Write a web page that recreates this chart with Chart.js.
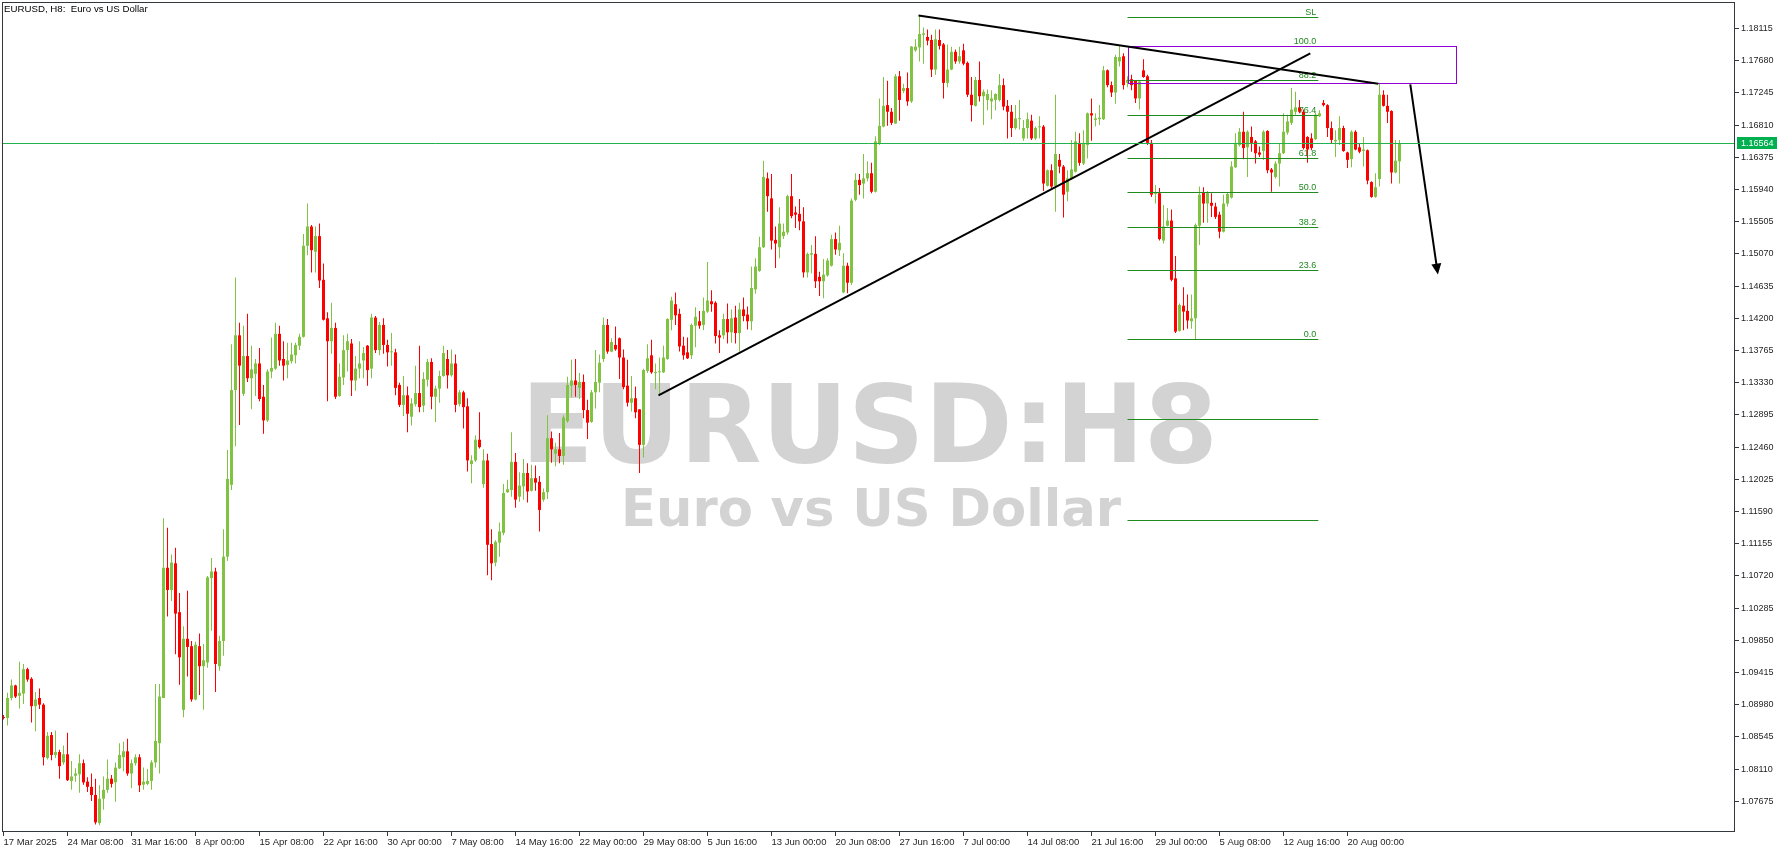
<!DOCTYPE html>
<html>
<head>
<meta charset="utf-8">
<title>EURUSD, H8</title>
<script src="https://cdn.jsdelivr.net/npm/chart.js@4.4.0/dist/chart.umd.min.js"></script>
<style>
  html, body { margin: 0; padding: 0; background: #ffffff; }
  #wrap { width: 1788px; height: 853px; }
</style>
</head>
<body>
<div id="wrap"><canvas id="chart" width="1788" height="853"></canvas></div>
<script>
/* =====================================================
   EURUSD H8 – candles, fibo, trend lines (Chart.js)
   ===================================================== */

const FONT_FAMILY = '"Liberation Sans", Arial, sans-serif';
const TEXT_COLOR = '#1e1e1e';
const AXIS_COLOR = '#33383d';
const BULL_COLOR = '#80c342';
const BEAR_COLOR = '#ff0000';
const FIBO_COLOR = '#1f8a1f';
const PRICE_COLOR = '#22b14c';
const RECT_COLOR = '#9400d3';
const MARK_COLOR = '#d3d3d3';

// ===================== DADOS =====================
const OPENS = [
  1.0881, 1.0880, 1.0907, 1.0924, 1.0910, 1.0913, 1.0946, 1.0933, 1.0896, 1.0907,
  1.0898, 1.0826, 1.0857, 1.0830, 1.0834, 1.0820, 1.0831, 1.0795, 1.0802, 1.0804,
  1.0819, 1.0794, 1.0787, 1.0776, 1.0738, 1.0771, 1.0783, 1.0798, 1.0793, 1.0812,
  1.0827, 1.0835, 1.0805, 1.0819, 1.0827, 1.0790, 1.0791, 1.0795, 1.0820, 1.0846,
  1.0907, 1.1083, 1.1053, 1.1089, 1.1023, 1.0891, 1.0987, 1.0977, 1.0905, 1.0977,
  1.0950, 1.0955, 1.1069, 1.1078, 1.0950, 1.0984, 1.1098, 1.1195, 1.1323, 1.1397,
  1.1318, 1.1369, 1.1339, 1.1345, 1.1359, 1.1314, 1.1282, 1.1348, 1.1352, 1.1399,
  1.1365, 1.1357, 1.1362, 1.1370, 1.1383, 1.1395, 1.1518, 1.1544, 1.1510, 1.1531,
  1.1472, 1.1420, 1.1389, 1.1407, 1.1315, 1.1340, 1.1377, 1.1386, 1.1336, 1.1352,
  1.1363, 1.1383, 1.1352, 1.1421, 1.1377, 1.1411, 1.1384, 1.1374, 1.1374, 1.1330,
  1.1303, 1.1316, 1.1287, 1.1304, 1.1319, 1.1302, 1.1337, 1.1361, 1.1314, 1.1325,
  1.1342, 1.1365, 1.1343, 1.1359, 1.1304, 1.1320, 1.1301, 1.1223, 1.1228, 1.1256,
  1.1196, 1.1228, 1.1115, 1.1090, 1.1117, 1.1130, 1.1185, 1.1188, 1.1226, 1.1179,
  1.1193, 1.1211, 1.1187, 1.1204, 1.1199, 1.1175, 1.1185, 1.1258, 1.1237, 1.1243,
  1.1234, 1.1281, 1.1329, 1.1336, 1.1326, 1.1334, 1.1296, 1.1280, 1.1320, 1.1333,
  1.1365, 1.1411, 1.1375, 1.1384, 1.1393, 1.1367, 1.1329, 1.1306, 1.1312, 1.1297,
  1.1249, 1.1349, 1.1370, 1.1346, 1.1347, 1.1347, 1.1365, 1.1418, 1.1439, 1.1426,
  1.1383, 1.1374, 1.1370, 1.1410, 1.1416, 1.1411, 1.1429, 1.1443, 1.1441, 1.1397,
  1.1397, 1.1419, 1.1401, 1.1421, 1.1400, 1.1432, 1.1425, 1.1416, 1.1459, 1.1484,
  1.1516, 1.1609, 1.1582, 1.1526, 1.1516, 1.1531, 1.1536, 1.1585, 1.1563, 1.1561,
  1.1551, 1.1482, 1.1506, 1.1507, 1.1476, 1.1470, 1.1478, 1.1491, 1.1527, 1.1512,
  1.1455, 1.1491, 1.1468, 1.1580, 1.1607, 1.1602, 1.1609, 1.1616, 1.1591, 1.1656,
  1.1679, 1.1708, 1.1699, 1.1683, 1.1747, 1.1727, 1.1731, 1.1713, 1.1782, 1.1786,
  1.1803, 1.1800, 1.1796, 1.1756, 1.1796, 1.1790, 1.1738, 1.1756, 1.1780, 1.1767,
  1.1782, 1.1765, 1.1722, 1.1707, 1.1742, 1.1720, 1.1715, 1.1713, 1.1715, 1.1715,
  1.1735, 1.1707, 1.1699, 1.1677, 1.1689, 1.1663, 1.1677, 1.1687, 1.1663, 1.1678,
  1.1679, 1.1599, 1.1620, 1.1599, 1.1634, 1.1625, 1.1591, 1.1608, 1.1618, 1.1657,
  1.1629, 1.1654, 1.1697, 1.1688, 1.1689, 1.1689, 1.1755, 1.1735, 1.1725, 1.1767,
  1.1774, 1.1738, 1.1743, 1.1741, 1.1717, 1.1755, 1.1747, 1.1657, 1.1588, 1.1589,
  1.1525, 1.1545, 1.1552, 1.1474, 1.1403, 1.1437, 1.1430, 1.1416, 1.1420, 1.1545,
  1.1590, 1.1575, 1.1576, 1.1571, 1.1560, 1.1537, 1.1575, 1.1583, 1.1624, 1.1654,
  1.1672, 1.1651, 1.1665, 1.1659, 1.1644, 1.1646, 1.1673, 1.1621, 1.1611, 1.1629,
  1.1643, 1.1671, 1.1684, 1.1699, 1.1705, 1.1699, 1.1665, 1.1663, 1.1662, 1.1693,
  1.1711, 1.1708, 1.1677, 1.1659, 1.1661, 1.1677, 1.1644, 1.1635, 1.1672, 1.1651,
  1.1646, 1.1647, 1.1604, 1.1584, 1.1608, 1.1722, 1.1707, 1.1700, 1.1617, 1.1632
];

const HIGHS = [
  1.0884, 1.0914, 1.0932, 1.0925, 1.0956, 1.0953, 1.0948, 1.0935, 1.0915, 1.0920,
  1.0900, 1.0861, 1.0861, 1.0863, 1.0837, 1.0843, 1.0860, 1.0822, 1.0812, 1.0831,
  1.0824, 1.0800, 1.0805, 1.0798, 1.0789, 1.0801, 1.0824, 1.0803, 1.0820, 1.0846,
  1.0848, 1.0852, 1.0824, 1.0831, 1.0831, 1.0813, 1.0811, 1.0823, 1.0926, 1.0926,
  1.1150, 1.1137, 1.1101, 1.1110, 1.1049, 1.1004, 1.1052, 1.0984, 1.0983, 1.0994,
  1.0980, 1.1072, 1.1096, 1.1083, 1.0991, 1.1135, 1.1242, 1.1385, 1.1475, 1.1414,
  1.1410, 1.1426, 1.1383, 1.1365, 1.1380, 1.1330, 1.1351, 1.1394, 1.1414, 1.1410,
  1.1389, 1.1387, 1.1387, 1.1387, 1.1399, 1.1534, 1.1575, 1.1546, 1.1544, 1.1548,
  1.1494, 1.1428, 1.1441, 1.1414, 1.1359, 1.1397, 1.1399, 1.1392, 1.1369, 1.1389,
  1.1381, 1.1384, 1.1426, 1.1423, 1.1415, 1.1420, 1.1391, 1.1400, 1.1379, 1.1333,
  1.1342, 1.1328, 1.1312, 1.1356, 1.1383, 1.1347, 1.1365, 1.1366, 1.1329, 1.1349,
  1.1383, 1.1377, 1.1378, 1.1371, 1.1323, 1.1322, 1.1312, 1.1235, 1.1262, 1.1293,
  1.1243, 1.1237, 1.1135, 1.1120, 1.1144, 1.1196, 1.1202, 1.1266, 1.1238, 1.1212,
  1.1230, 1.1224, 1.1222, 1.1221, 1.1207, 1.1190, 1.1289, 1.1267, 1.1252, 1.1265,
  1.1289, 1.1341, 1.1364, 1.1365, 1.1346, 1.1344, 1.1310, 1.1323, 1.1377, 1.1371,
  1.1421, 1.1419, 1.1393, 1.1409, 1.1394, 1.1378, 1.1364, 1.1342, 1.1328, 1.1297,
  1.1352, 1.1385, 1.1391, 1.1359, 1.1367, 1.1383, 1.1420, 1.1449, 1.1455, 1.1433,
  1.1395, 1.1394, 1.1413, 1.1435, 1.1430, 1.1448, 1.1496, 1.1458, 1.1443, 1.1404,
  1.1426, 1.1440, 1.1432, 1.1437, 1.1441, 1.1448, 1.1436, 1.1490, 1.1501, 1.1530,
  1.1633, 1.1617, 1.1615, 1.1544, 1.1570, 1.1548, 1.1587, 1.1615, 1.1571, 1.1581,
  1.1570, 1.1509, 1.1519, 1.1531, 1.1483, 1.1500, 1.1501, 1.1533, 1.1536, 1.1545,
  1.1508, 1.1495, 1.1582, 1.1616, 1.1615, 1.1642, 1.1632, 1.1630, 1.1666, 1.1717,
  1.1746, 1.1741, 1.1704, 1.1750, 1.1754, 1.1737, 1.1752, 1.1788, 1.1797, 1.1829,
  1.1813, 1.1810, 1.1803, 1.1810, 1.1810, 1.1792, 1.1790, 1.1787, 1.1783, 1.1787,
  1.1791, 1.1767, 1.1746, 1.1746, 1.1767, 1.1729, 1.1729, 1.1728, 1.1724, 1.1750,
  1.1744, 1.1715, 1.1708, 1.1708, 1.1715, 1.1688, 1.1698, 1.1695, 1.1679, 1.1693,
  1.1681, 1.1621, 1.1628, 1.1722, 1.1642, 1.1627, 1.1620, 1.1661, 1.1672, 1.1670,
  1.1674, 1.1698, 1.1717, 1.1697, 1.1708, 1.1761, 1.1756, 1.1740, 1.1776, 1.1788,
  1.1778, 1.1747, 1.1749, 1.1742, 1.1741, 1.1770, 1.1749, 1.1661, 1.1600, 1.1596,
  1.1573, 1.1569, 1.1567, 1.1504, 1.1440, 1.1462, 1.1452, 1.1452, 1.1548, 1.1598,
  1.1597, 1.1592, 1.1589, 1.1576, 1.1564, 1.1587, 1.1590, 1.1632, 1.1670, 1.1677,
  1.1699, 1.1674, 1.1679, 1.1661, 1.1652, 1.1674, 1.1674, 1.1623, 1.1632, 1.1656,
  1.1697, 1.1695, 1.1731, 1.1726, 1.1715, 1.1702, 1.1666, 1.1670, 1.1698, 1.1701,
  1.1715, 1.1709, 1.1686, 1.1674, 1.1693, 1.1680, 1.1645, 1.1674, 1.1674, 1.1656,
  1.1665, 1.1648, 1.1605, 1.1616, 1.1737, 1.1728, 1.1722, 1.1701, 1.1661, 1.1661
];

const LOWS = [
  1.0878, 1.0870, 1.0904, 1.0907, 1.0893, 1.0899, 1.0929, 1.0874, 1.0862, 1.0892,
  1.0816, 1.0824, 1.0823, 1.0826, 1.0798, 1.0817, 1.0795, 1.0783, 1.0794, 1.0779,
  1.0790, 1.0780, 1.0768, 1.0736, 1.0735, 1.0756, 1.0779, 1.0786, 1.0767, 1.0811,
  1.0808, 1.0802, 1.0785, 1.0816, 1.0780, 1.0783, 1.0789, 1.0783, 1.0813, 1.0805,
  1.0907, 1.1017, 1.1038, 1.0966, 1.0925, 1.0881, 1.0936, 1.0902, 1.0904, 1.0911,
  1.0891, 1.0948, 1.0998, 1.0915, 1.0944, 1.0964, 1.1092, 1.1188, 1.1247, 1.1276,
  1.1315, 1.1334, 1.1297, 1.1315, 1.1308, 1.1264, 1.1280, 1.1339, 1.1350, 1.1356,
  1.1336, 1.1339, 1.1359, 1.1359, 1.1377, 1.1394, 1.1505, 1.1482, 1.1482, 1.1461,
  1.1417, 1.1308, 1.1372, 1.1311, 1.1314, 1.1330, 1.1348, 1.1315, 1.1322, 1.1339,
  1.1339, 1.1329, 1.1339, 1.1373, 1.1370, 1.1372, 1.1355, 1.1356, 1.1316, 1.1300,
  1.1288, 1.1266, 1.1275, 1.1301, 1.1293, 1.1293, 1.1328, 1.1297, 1.1280, 1.1306,
  1.1341, 1.1325, 1.1341, 1.1293, 1.1301, 1.1271, 1.1213, 1.1197, 1.1226, 1.1244,
  1.1191, 1.1073, 1.1066, 1.1085, 1.1098, 1.1127, 1.1184, 1.1179, 1.1164, 1.1172,
  1.1175, 1.1171, 1.1186, 1.1187, 1.1132, 1.1172, 1.1176, 1.1225, 1.1220, 1.1224,
  1.1222, 1.1279, 1.1313, 1.1314, 1.1311, 1.1285, 1.1257, 1.1279, 1.1298, 1.1320,
  1.1361, 1.1372, 1.1374, 1.1376, 1.1338, 1.1324, 1.1301, 1.1294, 1.1285, 1.1211,
  1.1232, 1.1346, 1.1345, 1.1324, 1.1316, 1.1346, 1.1364, 1.1404, 1.1411, 1.1375,
  1.1364, 1.1365, 1.1365, 1.1381, 1.1406, 1.1404, 1.1427, 1.1429, 1.1386, 1.1373,
  1.1392, 1.1386, 1.1387, 1.1386, 1.1375, 1.1416, 1.1405, 1.1404, 1.1453, 1.1483,
  1.1515, 1.1564, 1.1513, 1.1488, 1.1501, 1.1527, 1.1533, 1.1555, 1.1542, 1.1539,
  1.1475, 1.1475, 1.1481, 1.1461, 1.1450, 1.1447, 1.1476, 1.1490, 1.1506, 1.1504,
  1.1454, 1.1454, 1.1465, 1.1578, 1.1587, 1.1582, 1.1605, 1.1589, 1.1590, 1.1654,
  1.1678, 1.1680, 1.1681, 1.1683, 1.1687, 1.1724, 1.1707, 1.1711, 1.1780, 1.1767,
  1.1764, 1.1789, 1.1746, 1.1749, 1.1783, 1.1717, 1.1732, 1.1755, 1.1764, 1.1764,
  1.1762, 1.1719, 1.1686, 1.1706, 1.1713, 1.1681, 1.1701, 1.1689, 1.1701, 1.1713,
  1.1701, 1.1663, 1.1665, 1.1675, 1.1675, 1.1660, 1.1663, 1.1661, 1.1661, 1.1663,
  1.1592, 1.1598, 1.1596, 1.1564, 1.1616, 1.1556, 1.1578, 1.1607, 1.1617, 1.1626,
  1.1627, 1.1636, 1.1660, 1.1679, 1.1681, 1.1688, 1.1732, 1.1719, 1.1710, 1.1760,
  1.1729, 1.1732, 1.1728, 1.1711, 1.1702, 1.1745, 1.1654, 1.1584, 1.1575, 1.1525,
  1.1521, 1.1544, 1.1470, 1.1400, 1.1402, 1.1404, 1.1406, 1.1406, 1.1392, 1.1519,
  1.1549, 1.1549, 1.1557, 1.1554, 1.1528, 1.1536, 1.1571, 1.1582, 1.1623, 1.1652,
  1.1635, 1.1611, 1.1645, 1.1629, 1.1638, 1.1634, 1.1616, 1.1591, 1.1609, 1.1598,
  1.1642, 1.1668, 1.1681, 1.1695, 1.1697, 1.1648, 1.1630, 1.1647, 1.1661, 1.1692,
  1.1706, 1.1665, 1.1656, 1.1638, 1.1654, 1.1645, 1.1623, 1.1624, 1.1647, 1.1643,
  1.1625, 1.1601, 1.1583, 1.1583, 1.1598, 1.1706, 1.1684, 1.1602, 1.1616, 1.1602
];

const CLOSES = [
  1.0880, 1.0907, 1.0924, 1.0909, 1.0914, 1.0946, 1.0932, 1.0896, 1.0905, 1.0898,
  1.0827, 1.0856, 1.0830, 1.0834, 1.0815, 1.0831, 1.0796, 1.0801, 1.0805, 1.0819,
  1.0793, 1.0787, 1.0776, 1.0739, 1.0771, 1.0783, 1.0798, 1.0791, 1.0813, 1.0830,
  1.0835, 1.0805, 1.0819, 1.0827, 1.0789, 1.0794, 1.0795, 1.0820, 1.0849, 1.0909,
  1.1083, 1.1053, 1.1090, 1.1021, 1.0962, 1.0987, 1.0976, 1.0905, 1.0979, 1.0950,
  1.0958, 1.1070, 1.1078, 1.0953, 1.0984, 1.1098, 1.1203, 1.1323, 1.1397, 1.1356,
  1.1369, 1.1339, 1.1351, 1.1359, 1.1311, 1.1282, 1.1348, 1.1353, 1.1399, 1.1363,
  1.1356, 1.1363, 1.1371, 1.1384, 1.1395, 1.1518, 1.1544, 1.1512, 1.1531, 1.1471,
  1.1418, 1.1389, 1.1407, 1.1314, 1.1341, 1.1377, 1.1389, 1.1336, 1.1352, 1.1359,
  1.1373, 1.1350, 1.1421, 1.1377, 1.1411, 1.1384, 1.1374, 1.1375, 1.1326, 1.1303,
  1.1316, 1.1291, 1.1305, 1.1319, 1.1300, 1.1338, 1.1361, 1.1314, 1.1325, 1.1342,
  1.1373, 1.1343, 1.1359, 1.1303, 1.1320, 1.1300, 1.1228, 1.1228, 1.1256, 1.1246,
  1.1228, 1.1114, 1.1089, 1.1118, 1.1132, 1.1184, 1.1189, 1.1226, 1.1175, 1.1194,
  1.1211, 1.1186, 1.1204, 1.1198, 1.1161, 1.1185, 1.1258, 1.1243, 1.1243, 1.1234,
  1.1286, 1.1330, 1.1336, 1.1330, 1.1334, 1.1296, 1.1279, 1.1320, 1.1334, 1.1360,
  1.1411, 1.1375, 1.1388, 1.1378, 1.1367, 1.1327, 1.1306, 1.1312, 1.1293, 1.1249,
  1.1350, 1.1366, 1.1347, 1.1347, 1.1348, 1.1367, 1.1419, 1.1444, 1.1424, 1.1382,
  1.1370, 1.1366, 1.1411, 1.1422, 1.1410, 1.1430, 1.1444, 1.1439, 1.1396, 1.1394,
  1.1419, 1.1401, 1.1420, 1.1400, 1.1432, 1.1423, 1.1416, 1.1461, 1.1490, 1.1516,
  1.1611, 1.1585, 1.1525, 1.1521, 1.1548, 1.1537, 1.1585, 1.1558, 1.1560, 1.1551,
  1.1482, 1.1507, 1.1508, 1.1470, 1.1470, 1.1479, 1.1498, 1.1527, 1.1513, 1.1522,
  1.1491, 1.1468, 1.1579, 1.1607, 1.1600, 1.1609, 1.1616, 1.1591, 1.1659, 1.1680,
  1.1707, 1.1699, 1.1684, 1.1747, 1.1715, 1.1731, 1.1713, 1.1787, 1.1787, 1.1804,
  1.1805, 1.1795, 1.1756, 1.1797, 1.1788, 1.1738, 1.1756, 1.1780, 1.1767, 1.1774,
  1.1764, 1.1722, 1.1708, 1.1742, 1.1720, 1.1726, 1.1723, 1.1717, 1.1723, 1.1735,
  1.1706, 1.1699, 1.1677, 1.1690, 1.1690, 1.1677, 1.1689, 1.1663, 1.1677, 1.1679,
  1.1602, 1.1620, 1.1598, 1.1642, 1.1625, 1.1587, 1.1609, 1.1621, 1.1659, 1.1630,
  1.1657, 1.1697, 1.1694, 1.1690, 1.1691, 1.1755, 1.1735, 1.1725, 1.1773, 1.1773,
  1.1735, 1.1742, 1.1735, 1.1717, 1.1740, 1.1746, 1.1657, 1.1587, 1.1590, 1.1527,
  1.1544, 1.1552, 1.1472, 1.1402, 1.1438, 1.1429, 1.1417, 1.1420, 1.1546, 1.1587,
  1.1575, 1.1589, 1.1572, 1.1557, 1.1537, 1.1575, 1.1588, 1.1625, 1.1657, 1.1672,
  1.1650, 1.1672, 1.1657, 1.1643, 1.1641, 1.1672, 1.1620, 1.1617, 1.1629, 1.1643,
  1.1672, 1.1686, 1.1702, 1.1705, 1.1699, 1.1650, 1.1648, 1.1650, 1.1695, 1.1697,
  1.1708, 1.1677, 1.1661, 1.1661, 1.1677, 1.1646, 1.1634, 1.1672, 1.1648, 1.1645,
  1.1648, 1.1606, 1.1584, 1.1597, 1.1722, 1.1707, 1.1699, 1.1617, 1.1633, 1.16564
];

// eixo de tempo: um rótulo a cada 16 barras
const X_TICK_LABELS = [
  '17 Mar 2025', '24 Mar 08:00', '31 Mar 16:00', '8 Apr 00:00', '15 Apr 08:00',
  '22 Apr 16:00', '30 Apr 00:00', '7 May 08:00', '14 May 16:00', '22 May 00:00',
  '29 May 08:00', '5 Jun 16:00', '13 Jun 00:00', '20 Jun 08:00', '27 Jun 16:00',
  '7 Jul 00:00', '14 Jul 08:00', '21 Jul 16:00', '29 Jul 00:00', '5 Aug 08:00',
  '12 Aug 16:00', '20 Aug 00:00'
];
const X_TICK_STEP = 16;

const Y_TICKS = [
  1.07675, 1.08110, 1.08545, 1.08980, 1.09415, 1.09850, 1.10285, 1.10720, 1.11155,
  1.11590, 1.12025, 1.12460, 1.12895, 1.13330, 1.13765, 1.14200, 1.14635, 1.15070,
  1.15505, 1.15940, 1.16375, 1.16810, 1.17245, 1.17680, 1.18115
];

const Y_MIN = 1.07260;
const Y_MAX = 1.18473;
const X_MIN = -0.375;
const X_MAX = 432.875;

const LAST_PRICE = 1.16564;

// fibo
const FIB_HIGH = 1.1788;
const FIB_LOW = 1.1392;
const FIB_LEVELS = [110, 100, 88.2, 76.4, 61.8, 50, 38.2, 23.6, 0, -27.2, -61.8];
const FIB_LABELS = ['SL', '100.0', '88.2', '76.4', '61.8', '50.0', '38.2', '23.6', '0.0', '', ''];
const FIB_FROM_BAR = 281;
const FIB_TO_BAR = 328.7;

// retângulo (zona de venda)
const ZONE_BARS = [281, 363];
const ZONE_PRICES = [1.1788, 1.1738];

// linhas de tendência [barra1, preço1, barra2, preço2]
const TREND_LINES = [
  [228.75, 1.1829, 343.7, 1.1737],
  [163.75, 1.1316, 326.7, 1.1778]
];
const ARROW = [351.7, 1.1736, 358.6, 1.1479];

// ===================== DESENHO EXTRA =====================
function drawWatermark(chart) {
  const ctx = chart.ctx;
  const lines = [
    { text: 'EURUSD:H8', size: 108, cx: 869.5, base: 462, width: 697 },
    { text: 'Euro vs US Dollar', size: 52, cx: 871, base: 526, width: 500 }
  ];
  ctx.save();
  ctx.fillStyle = MARK_COLOR;
  ctx.textAlign = 'center';
  ctx.textBaseline = 'alphabetic';
  lines.forEach(l => {
    ctx.font = `bold ${l.size}px "DejaVu Sans", Verdana, sans-serif`;
    const w = ctx.measureText(l.text).width;
    ctx.save();
    ctx.translate(l.cx, l.base);
    ctx.scale(l.width / w, 1);
    ctx.fillText(l.text, 0, 0);
    ctx.restore();
  });
  ctx.restore();
}

function drawOverlays(chart) {
  const ctx = chart.ctx;
  const xs = chart.scales.x;
  const ys = chart.scales.y;
  const area = chart.chartArea;
  const px = v => xs.getPixelForValue(v);
  const py = v => ys.getPixelForValue(v);

  ctx.save();
  ctx.beginPath();
  ctx.rect(area.left, area.top, area.right - area.left, area.bottom - area.top);
  ctx.clip();

  // fibo
  ctx.strokeStyle = FIBO_COLOR;
  ctx.fillStyle = FIBO_COLOR;
  ctx.lineWidth = 1;
  ctx.font = '9px ' + FONT_FAMILY;
  ctx.textAlign = 'right';
  ctx.textBaseline = 'alphabetic';
  FIB_LEVELS.forEach((lvl, i) => {
    const price = FIB_LOW + (FIB_HIGH - FIB_LOW) * lvl / 100;
    const y = Math.round(py(price)) + 0.5;
    ctx.beginPath();
    ctx.moveTo(px(FIB_FROM_BAR), y);
    ctx.lineTo(px(FIB_TO_BAR), y);
    ctx.stroke();
    if (FIB_LABELS[i]) {
      ctx.fillText(FIB_LABELS[i], px(FIB_TO_BAR) - 2, y - 3);
    }
  });

  // zona
  ctx.strokeStyle = RECT_COLOR;
  const rx1 = Math.round(px(ZONE_BARS[0])) + 0.5;
  const rx2 = Math.round(px(ZONE_BARS[1])) + 0.5;
  const ry1 = Math.round(py(ZONE_PRICES[0])) + 0.5;
  const ry2 = Math.round(py(ZONE_PRICES[1])) + 0.5;
  ctx.strokeRect(rx1, ry1, rx2 - rx1, ry2 - ry1);

  // tendências
  ctx.strokeStyle = '#000000';
  ctx.lineWidth = 2;
  TREND_LINES.forEach(t => {
    ctx.beginPath();
    ctx.moveTo(px(t[0]), py(t[1]));
    ctx.lineTo(px(t[2]), py(t[3]));
    ctx.stroke();
  });

  // seta
  const ax1 = px(ARROW[0]), ay1 = py(ARROW[1]);
  const ax2 = px(ARROW[2]), ay2 = py(ARROW[3]);
  const ang = Math.atan2(ay2 - ay1, ax2 - ax1);
  ctx.beginPath();
  ctx.moveTo(ax1, ay1);
  ctx.lineTo(ax2 - 6 * Math.cos(ang), ay2 - 6 * Math.sin(ang));
  ctx.stroke();
  ctx.fillStyle = '#000000';
  ctx.beginPath();
  ctx.moveTo(ax2, ay2);
  ctx.lineTo(ax2 - 11 * Math.cos(ang) + 5 * Math.sin(ang), ay2 - 11 * Math.sin(ang) - 5 * Math.cos(ang));
  ctx.lineTo(ax2 - 11 * Math.cos(ang) - 5 * Math.sin(ang), ay2 - 11 * Math.sin(ang) + 5 * Math.cos(ang));
  ctx.closePath();
  ctx.fill();

  // linha do preço atual
  const yp = Math.round(py(LAST_PRICE)) + 0.5;
  ctx.strokeStyle = PRICE_COLOR;
  ctx.lineWidth = 1;
  ctx.beginPath();
  ctx.moveTo(area.left, yp);
  ctx.lineTo(area.right, yp);
  ctx.stroke();

  ctx.restore();
}

function drawFrameAndLabels(chart) {
  const ctx = chart.ctx;
  const area = chart.chartArea;
  const ys = chart.scales.y;

  ctx.save();
  ctx.strokeStyle = AXIS_COLOR;
  ctx.lineWidth = 1;
  ctx.strokeRect(area.left + 0.5, area.top + 0.5, area.right - area.left - 1, area.bottom - area.top - 1);

  // título
  ctx.fillStyle = '#000000';
  ctx.font = '9.7px ' + FONT_FAMILY;
  ctx.textAlign = 'left';
  ctx.textBaseline = 'alphabetic';
  ctx.fillText('EURUSD, H8:  Euro vs US Dollar', area.left + 2, area.top + 10);

  // etiqueta do preço
  const yp = Math.round(ys.getPixelForValue(LAST_PRICE));
  ctx.fillStyle = '#00b050';
  ctx.fillRect(area.right + 2, yp - 6, 40, 12);
  ctx.fillStyle = '#ffffff';
  ctx.font = '9px ' + FONT_FAMILY;
  ctx.textBaseline = 'middle';
  ctx.fillText(LAST_PRICE.toFixed(5), area.right + 6, yp + 0.5);
  ctx.restore();
}

const overlayPlugin = {
  id: 'mt5Overlays',
  beforeDatasetsDraw: drawWatermark,
  afterDatasetsDraw: drawOverlays,
  afterDraw: drawFrameAndLabels
};

// ===================== GRÁFICO =====================
const candleColors = CLOSES.map((c, i) => (c >= OPENS[i] ? BULL_COLOR : BEAR_COLOR));
const wickData = HIGHS.map((h, i) => ({ x: i, y: [LOWS[i], h] }));
const bodyData = OPENS.map((o, i) => ({ x: i, y: [o, CLOSES[i]] }));

new Chart(document.getElementById('chart'), {
  type: 'bar',
  data: {
    datasets: [
      {
        label: 'wick',
        data: wickData,
        backgroundColor: candleColors,
        barThickness: 1,
        grouped: false,
        inflateAmount: 0,
        borderWidth: 0,
        order: 1
      },
      {
        label: 'body',
        data: bodyData,
        backgroundColor: candleColors,
        barThickness: 3,
        grouped: false,
        inflateAmount: 0,
        borderWidth: 0,
        minBarLength: 1,
        order: 0
      }
    ]
  },
  options: {
    responsive: false,
    animation: false,
    events: [],
    layout: { padding: { left: 2, top: 2, right: 0, bottom: 0 } },
    plugins: {
      legend: { display: false },
      tooltip: { enabled: false }
    },
    scales: {
      x: {
        type: 'linear',
        min: X_MIN,
        max: X_MAX,
        offset: false,
        grid: { drawOnChartArea: false, drawTicks: true, tickLength: 4, tickColor: AXIS_COLOR, offset: false },
        border: { display: false },
        afterBuildTicks: scale => {
          scale.ticks = X_TICK_LABELS.map((_, i) => ({ value: i * X_TICK_STEP }));
        },
        afterFit: scale => {
          scale.height = 21;
          scale.paddingLeft = 0;
          scale.paddingRight = 0;
        },
        ticks: {
          autoSkip: false,
          maxRotation: 0,
          minRotation: 0,
          align: 'start',
          labelOffset: 0,
          padding: 1,
          color: TEXT_COLOR,
          font: { family: FONT_FAMILY, size: 9.5 },
          callback: (value, index) => X_TICK_LABELS[index]
        }
      },
      y: {
        type: 'linear',
        position: 'right',
        min: Y_MIN,
        max: Y_MAX,
        beginAtZero: false,
        grid: { drawOnChartArea: false, drawTicks: true, tickLength: 4, tickColor: AXIS_COLOR },
        border: { display: false },
        afterBuildTicks: scale => {
          scale.ticks = Y_TICKS.map(v => ({ value: v }));
        },
        afterFit: scale => {
          scale.width = 53;
          scale.paddingTop = 0;
          scale.paddingBottom = 0;
        },
        ticks: {
          autoSkip: false,
          padding: 2,
          color: TEXT_COLOR,
          font: { family: FONT_FAMILY, size: 9 },
          callback: value => Number(value).toFixed(5)
        }
      }
    }
  },
  plugins: [overlayPlugin]
});
</script>
</body>
</html>
